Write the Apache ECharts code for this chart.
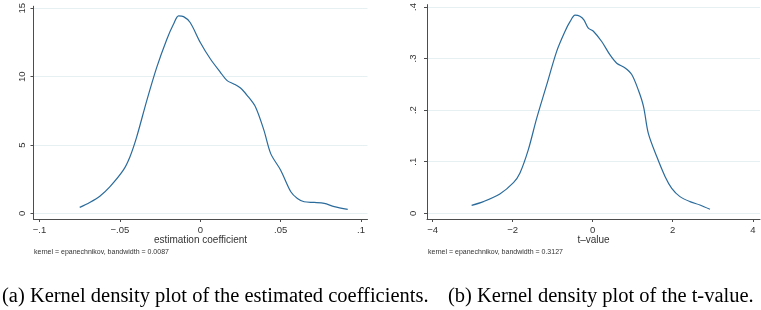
<!DOCTYPE html>
<html>
<head>
<meta charset="utf-8">
<script src="https://cdn.jsdelivr.net/npm/echarts@6/dist/echarts.min.js"></script>
<style>
  html, body { margin: 0; padding: 0; background: #fff; }
  #main { width: 761px; height: 310px; }
</style>
</head>
<body>
<div id="main"></div>
<script>
// density of the estimated coefficients: [coefficient, density]
const coefDensity = [
  [-0.075, 0.44], [-0.0688, 0.8], [-0.0625, 1.26], [-0.0563, 1.94], [-0.0479, 3.16],
  [-0.0438, 4.13], [-0.0396, 5.58], [-0.0333, 8.25], [-0.0271, 10.68], [-0.0208, 12.74],
  [-0.0167, 13.83], [-0.0135, 14.44], [-0.0104, 14.39], [-0.0063, 13.96], [0, 12.5],
  [0.0063, 11.29], [0.0125, 10.32], [0.0167, 9.71], [0.0208, 9.47], [0.025, 9.17],
  [0.0292, 8.62], [0.0344, 7.77], [0.0396, 6.07], [0.0438, 4.37], [0.05, 3.16],
  [0.0563, 1.58], [0.0604, 1.09], [0.0646, 0.85], [0.0708, 0.8], [0.0771, 0.73],
  [0.0833, 0.49], [0.0917, 0.29]
];
// density of the t-values: [t, density]
const tDensity = [
  [-3.025, 0.0155], [-2.73, 0.0227], [-2.32, 0.0375], [-1.98, 0.0595], [-1.82, 0.0777],
  [-1.61, 0.123], [-1.4, 0.184], [-1.15, 0.249], [-0.9, 0.314], [-0.69, 0.353],
  [-0.57, 0.371], [-0.44, 0.384], [-0.32, 0.382], [-0.22, 0.375], [-0.11, 0.359],
  [0.017, 0.353], [0.225, 0.333], [0.433, 0.307], [0.6, 0.291], [0.81, 0.2816],
  [0.975, 0.269], [1.14, 0.239], [1.27, 0.207], [1.39, 0.155], [1.6, 0.11],
  [1.81, 0.071], [1.975, 0.0485], [2.18, 0.0324], [2.43, 0.0227], [2.68, 0.0162],
  [2.93, 0.0078]
];
const coefXTicks = [-0.1, -0.05, 0, 0.05, 0.1];
const coefYTicks = [0, 5, 10, 15];
const tXTicks = [-4, -2, 0, 2, 4];
const tYTicks = [0, 0.1, 0.2, 0.3, 0.4];

const stataNum = (v) => {
  if (v === 0) return "0";
  let s = String(Math.abs(v)).replace(/^0\./, ".");
  return (v < 0 ? "\u2212" : "") + s;
};

const lineColor = "#2a6b9c";
const axisColor = "#4d4d4d";
const textColor = "#333";
const font = "Liberation Sans";

const xAxisBase = (ticks, name) => ({
  type: "value",
  name: name,
  nameLocation: "middle",
  nameGap: 16,
  nameMoveOverlap: false,
  nameTextStyle: { fontFamily: font, fontSize: 10, color: textColor },
  axisLine: { show: true, onZero: false, lineStyle: { color: axisColor, width: 1 } },
  axisTick: { show: true, length: 3, customValues: ticks, lineStyle: { color: axisColor } },
  axisLabel: {
    customValues: ticks, margin: 6, fontFamily: font, fontSize: 9.5, color: textColor,
    formatter: stataNum,
  },
  splitLine: { show: false },
});

const yAxisBase = (ticks, margin) => ({
  type: "value",
  axisLine: { show: true, onZero: false, lineStyle: { color: axisColor, width: 1 } },
  axisTick: { show: true, length: 3, customValues: ticks, lineStyle: { color: axisColor } },
  axisLabel: {
    customValues: ticks, rotate: 90, margin: margin, fontFamily: font, fontSize: 9.5,
    color: textColor, formatter: stataNum,
  },
  splitLine: { show: true, lineStyle: { color: "#e6eff1", width: 1 } },
});

const chart = echarts.init(document.getElementById("main"));
chart.setOption({
  animation: false,
  grid: [
    { left: 33.5, top: 4, width: 334, height: 215 },
    { left: 427, top: 4, width: 333, height: 215 },
  ],
  xAxis: [
    { ...xAxisBase(coefXTicks, "estimation coefficient"), gridIndex: 0, min: -0.10375, max: 0.104 },
    { ...xAxisBase(tXTicks, "t\u2013value"), gridIndex: 1, min: -4.14, max: 4.18 },
  ],
  yAxis: [
    { ...yAxisBase(coefYTicks, 6), gridIndex: 0, min: -0.41, max: 15.15 },
    { ...yAxisBase(tYTicks, 9), gridIndex: 1, min: -0.011, max: 0.4045 },
  ],
  title: [
    {
      text: "kernel = epanechnikov, bandwidth = 0.0087", left: 34, top: 249,
      textStyle: { fontFamily: font, fontSize: 7, fontWeight: "normal", color: textColor },
      padding: 0,
    },
    {
      text: "kernel = epanechnikov, bandwidth = 0.3127", left: 428, top: 249,
      textStyle: { fontFamily: font, fontSize: 7, fontWeight: "normal", color: textColor },
      padding: 0,
    },
    {
      text: "(a) Kernel density plot of the estimated coefficients.", left: 2, top: 286,
      textStyle: { fontFamily: "Liberation Serif", fontSize: 20.5, fontWeight: "normal", color: "#000" },
      padding: 0,
    },
    {
      text: "(b) Kernel density plot of the t-value.", left: 448, top: 286,
      textStyle: { fontFamily: "Liberation Serif", fontSize: 20.5, fontWeight: "normal", color: "#000" },
      padding: 0,
    },
  ],
  series: [
    {
      type: "line", xAxisIndex: 0, yAxisIndex: 0, data: coefDensity, smooth: 0.3,
      showSymbol: false, lineStyle: { color: lineColor, width: 1.2 },
    },
    {
      type: "line", xAxisIndex: 1, yAxisIndex: 1, data: tDensity, smooth: 0.3,
      showSymbol: false, lineStyle: { color: lineColor, width: 1.2 },
    },
  ],
});
</script>
</body>
</html>
